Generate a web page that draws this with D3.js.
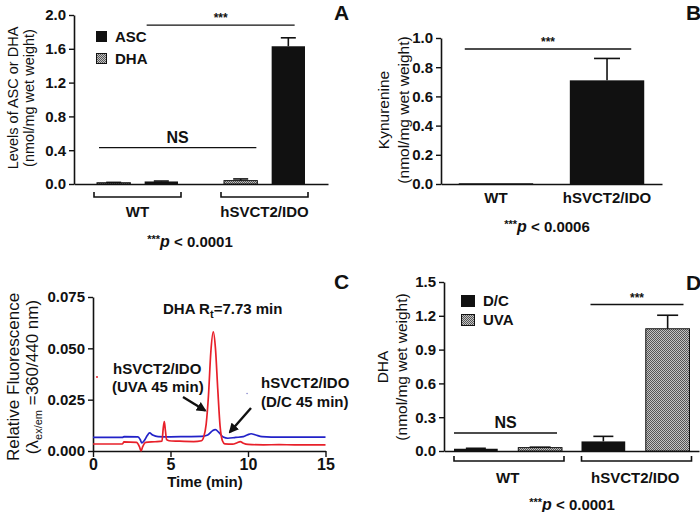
<!DOCTYPE html>
<html><head><meta charset="utf-8">
<script src="https://cdn.jsdelivr.net/npm/d3@7"></script>
<style>
body{margin:0;background:#fff}
svg{display:block}
text{font-family:"Liberation Sans",Arial,sans-serif;fill:#111}
</style>
</head><body><svg width="700" height="512"></svg>
<script>
// ---------- DATA ----------
// Panel A
const groupsA = ["WT", "hSVCT2/IDO"];
const seriesA = ["DHA", "ASC"];
const dhaA = [0.015, 0.04];
const dhaErrA = [0.004, 0.02];
const ascA = [0.03, 1.63];
const ascErrA = [0.005, 0.10];
const ticksA = [0.0, 0.4, 0.8, 1.2, 1.6, 2.0];
// Panel B
const groupsB = ["WT", "hSVCT2/IDO"];
const kynB = [0.005, 0.71];
const kynErrB = [0, 0.15];
const ticksB = [0.0, 0.2, 0.4, 0.6, 0.8, 1.0];
// Panel C (chromatograms)
const timeUVA = [0, 1.9, 2.0, 2.8, 3.0, 3.1, 3.2, 3.4, 4.0, 4.45, 4.53, 4.6, 4.67, 4.75, 4.9, 5.5, 6.5, 7.0, 7.15, 7.3, 7.45, 7.6, 7.76, 7.9, 8.05, 8.2, 8.35, 8.5, 9.0, 9.3, 9.5, 9.7, 10.0, 11, 12, 13, 14, 15];
const valUVA = [0.0034, 0.0034, 0.0044, 0.0042, 0.002, 0.0, 0.002, 0.0042, 0.0045, 0.0048, 0.011, 0.0143, 0.010, 0.0055, 0.005, 0.0048, 0.0046, 0.005, 0.007, 0.013, 0.027, 0.048, 0.058, 0.050, 0.030, 0.012, 0.005, 0.0035, 0.0033, 0.004, 0.0046, 0.0038, 0.0032, 0.003, 0.0031, 0.003, 0.003, 0.003];
const timeDC = [0, 1.9, 2.0, 2.9, 3.05, 3.15, 3.3, 3.5, 3.65, 3.85, 4.2, 5, 6, 7.0, 7.4, 7.7, 7.9, 8.1, 8.4, 8.7, 9.2, 9.7, 10.0, 10.2, 10.5, 10.9, 11.5, 13, 15];
const valDC = [0.0066, 0.0066, 0.0070, 0.0069, 0.0055, 0.0039, 0.005, 0.0075, 0.0088, 0.0078, 0.0070, 0.0069, 0.0070, 0.0071, 0.0078, 0.0098, 0.0104, 0.0092, 0.0068, 0.0062, 0.0066, 0.0070, 0.0080, 0.0084, 0.0078, 0.0070, 0.0068, 0.0068, 0.0068];
const strayUVA = [[0.26, 0.036]];
const strayDC = [[9.94, 0.028]];
const ticksCx = [0, 5, 10, 15];
const ticksCy = [0.000, 0.025, 0.050, 0.075];
// Panel D
const groupsD = ["WT", "hSVCT2/IDO"];
const seriesD = ["D/C", "UVA"];
const dcD = [0.02, 0.085];
const dcErrD = [0.004, 0.045];
const uvaD = [0.03, 1.085];
const uvaErrD = [0.004, 0.12];
const ticksD = [0.0, 0.3, 0.6, 0.9, 1.2, 1.5];

// ---------- SETUP ----------
const svg = d3.select("svg");
const defs = svg.append("defs");
const pat = defs.append("pattern").attr("id", "dots").attr("width", 2).attr("height", 2)
  .attr("patternUnits", "userSpaceOnUse");
pat.append("rect").attr("width", 2).attr("height", 2).attr("fill", "#c4c4c4");
pat.append("rect").attr("width", 1).attr("height", 1).attr("fill", "#555");
pat.append("rect").attr("x", 1).attr("y", 1).attr("width", 1).attr("height", 1).attr("fill", "#555");
const ar = defs.append("marker").attr("id", "arrow").attr("viewBox", "0 0 10 10")
  .attr("refX", 8).attr("refY", 5).attr("markerWidth", 4.2).attr("markerHeight", 4.2)
  .attr("markerUnits", "strokeWidth").attr("orient", "auto");
ar.append("path").attr("d", "M0,0 L10,5 L0,10 z").attr("fill", "#111");

const FONT = "'Liberation Sans', Arial, sans-serif";

function styleAxis(g) {
  g.select(".domain").attr("stroke", "#111").attr("stroke-width", 1.6);
  g.selectAll(".tick line").attr("stroke", "#111").attr("stroke-width", 1.4);
  g.selectAll(".tick text").attr("font-size", 15).attr("font-weight", "bold")
    .attr("font-family", FONT).attr("fill", "#111");
}
function yLabel(x1, x2, cy, l1, l2, size) {
  const t1 = svg.append("text").attr("transform", `translate(${x1},${cy}) rotate(-90)`)
    .attr("text-anchor", "middle").attr("dy", "0.35em").attr("font-size", size);
  if (typeof l1 === "string") t1.text(l1); else l1(t1);
  const t2 = svg.append("text").attr("transform", `translate(${x2},${cy}) rotate(-90)`)
    .attr("text-anchor", "middle").attr("dy", "0.35em").attr("font-size", size);
  if (typeof l2 === "string") t2.text(l2); else l2(t2);
}
function panelLetter(x, y, s) {
  svg.append("text").attr("x", x).attr("y", y).attr("font-size", 21).attr("font-weight", "bold").text(s);
}
function sigLine(xa, xb, y, label, big) {
  svg.append("line").attr("x1", xa).attr("x2", xb).attr("y1", y).attr("y2", y)
    .attr("stroke", "#111").attr("stroke-width", 1.4);
  const t = svg.append("text").attr("x", (xa + xb) / 2).attr("text-anchor", "middle").text(label);
  if (big) t.attr("y", y - 5).attr("font-size", 16).attr("font-weight", "bold");
  else t.attr("y", y - 3).attr("font-size", 12).attr("font-weight", "bold").attr("fill", "#444");
}
function bracket(xa, xb, y) {
  svg.append("path").attr("d", `M${xa},${y - 5} V${y} H${xb} V${y - 5}`)
    .attr("fill", "none").attr("stroke", "#111").attr("stroke-width", 1.6);
}
function pText(cx, y, pv) {
  const t = svg.append("text").attr("x", cx).attr("y", y).attr("text-anchor", "middle")
    .attr("font-size", 15).attr("font-weight", "bold");
  t.append("tspan").attr("font-size", 11).attr("dy", -4).text("***");
  t.append("tspan").attr("font-style", "italic").attr("font-size", 16).attr("dy", 4).text("p");
  t.append("tspan").text(" < " + pv);
}
function bar(x, w, y, v, err, fill, capW) {
  svg.append("rect").attr("x", x).attr("y", y(v)).attr("width", w)
    .attr("height", y(0) - y(v)).attr("fill", fill)
    .attr("stroke", "#111").attr("stroke-width", fill === "#111" ? 0 : 1);
  if (err > 0) {
    const cx = x + w / 2;
    svg.append("line").attr("x1", cx).attr("x2", cx).attr("y1", y(v)).attr("y2", y(v + err))
      .attr("stroke", "#111").attr("stroke-width", 1.6);
    svg.append("line").attr("x1", cx - capW / 2).attr("x2", cx + capW / 2)
      .attr("y1", y(v + err)).attr("y2", y(v + err)).attr("stroke", "#111").attr("stroke-width", 1.6);
  }
}

// ---------- PANEL A ----------
{
  const y = d3.scaleLinear().domain([0, 2.0]).range([184, 15]);
  const x0 = d3.scaleBand().domain(groupsA).range([74, 328]);
  const x1 = d3.scaleBand().domain(seriesA).range([23, 104]).paddingInner(0.3);
  svg.append("g").attr("transform", "translate(74,0)")
    .call(d3.axisLeft(y).tickValues(ticksA).tickFormat(d3.format(".1f")).tickSize(5).tickSizeOuter(0))
    .call(styleAxis);
  svg.append("g").attr("transform", "translate(0,184)")
    .call(d3.axisBottom(x0).tickValues([]).tickSizeOuter(0)).call(styleAxis);
  groupsA.forEach((g, i) => {
    bar(x0(g) + x1("DHA"), x1.bandwidth(), y, dhaA[i], dhaErrA[i], "url(#dots)", 15);
    bar(x0(g) + x1("ASC"), x1.bandwidth(), y, ascA[i], ascErrA[i], "#111", 15);
    bracket(x0(g) + x1("DHA") - 3, x0(g) + x1("ASC") + x1.bandwidth() + 3, 197);
    svg.append("text").attr("x", x0(g) + x0.bandwidth() / 2).attr("y", 217)
      .attr("text-anchor", "middle").attr("font-size", 15).attr("font-weight", "bold").text(g);
  });
  sigLine(x0("WT") + x1("ASC") + 2, x0("hSVCT2/IDO") + x1("ASC") + 23, y(1.88), "***", false);
  sigLine(x0("WT") + x1("DHA") + 2, x0("hSVCT2/IDO") + x1("DHA") + x1.bandwidth() - 1, y(0.43), "NS", true);
  // legend
  svg.append("rect").attr("x", 96).attr("y", 31).attr("width", 11).attr("height", 11).attr("fill", "#111");
  svg.append("rect").attr("x", 96.5).attr("y", 53.5).attr("width", 10).attr("height", 10).attr("fill", "url(#dots)").attr("stroke", "#111");
  svg.append("text").attr("x", 115).attr("y", 42).attr("font-size", 15).attr("font-weight", "bold").text(seriesA[1]);
  svg.append("text").attr("x", 115).attr("y", 64).attr("font-size", 15).attr("font-weight", "bold").text(seriesA[0]);
  yLabel(13, 29, 98, "Levels of ASC or DHA", "(nmol/mg wet weight)", 14.5);
  pText(190, 247, "0.0001");
  panelLetter(334, 20, "A");
}

// ---------- PANEL B ----------
{
  const y = d3.scaleLinear().domain([0, 1.0]).range([184, 38]);
  const x = d3.scaleBand().domain(groupsB).range([441, 662]).paddingInner(0.33).paddingOuter(0.16);
  svg.append("g").attr("transform", "translate(441,0)")
    .call(d3.axisLeft(y).tickValues(ticksB).tickFormat(d3.format(".1f")).tickSize(5).tickSizeOuter(0))
    .call(styleAxis);
  svg.append("g").attr("transform", "translate(0,184)")
    .call(d3.axisBottom(x).tickValues([]).tickSizeOuter(0)).call(styleAxis);
  groupsB.forEach((g, i) => {
    bar(x(g), x.bandwidth(), y, kynB[i], kynErrB[i], "#111", 26);
    svg.append("text").attr("x", x(g) + x.bandwidth() / 2).attr("y", 203)
      .attr("text-anchor", "middle").attr("font-size", 15).attr("font-weight", "bold").text(g);
  });
  sigLine(x("WT") + 6, x("hSVCT2/IDO") + x.bandwidth() - 13, y(0.925), "***", false);
  yLabel(384, 404, 110, "Kynurenine", "(nmol/mg wet weight)", 15.5);
  pText(547, 232, "0.0006");
  panelLetter(686, 20, "B");
}

// ---------- PANEL C ----------
{
  const y = d3.scaleLinear().domain([0, 0.075]).range([451, 297]);
  const x = d3.scaleLinear().domain([0, 15]).range([93, 325.5]);
  svg.append("g").attr("transform", "translate(93,0)")
    .call(d3.axisLeft(y).tickValues(ticksCy).tickFormat(d3.format(".3f")).tickSize(5).tickSizeOuter(0))
    .call(styleAxis);
  svg.append("g").attr("transform", "translate(0,451)")
    .call(d3.axisBottom(x).tickValues(ticksCx).tickFormat(d3.format("d")).tickSize(6).tickSizeOuter(0))
    .call(styleAxis).call(g => g.selectAll(".tick text").attr("font-size", 16).attr("dy", "0.65em"));
  const line = d3.line().x(d => x(d[0])).y(d => y(d[1])).curve(d3.curveMonotoneX);
  svg.append("path").datum(timeDC.map((t, i) => [t, valDC[i]])).attr("d", line)
    .attr("fill", "none").attr("stroke", "#2222c8").attr("stroke-width", 1.7);
  svg.append("path").datum(timeUVA.map((t, i) => [t, valUVA[i]])).attr("d", line)
    .attr("fill", "none").attr("stroke", "#e8202a").attr("stroke-width", 1.7);
  svg.selectAll(".sr").data(strayUVA).join("circle").attr("cx", d => x(d[0])).attr("cy", d => y(d[1])).attr("r", 1).attr("fill", "#e8202a");
  svg.selectAll(".sb").data(strayDC).join("circle").attr("cx", d => x(d[0])).attr("cy", d => y(d[1])).attr("r", 0.8).attr("fill", "#8888cc");
  svg.append("text").attr("x", 205).attr("y", 487).attr("text-anchor", "middle")
    .attr("font-size", 15).attr("font-weight", "bold").text("Time (min)");
  const tt = svg.append("text").attr("x", 163).attr("y", 314).attr("font-size", 15).attr("font-weight", "bold");
  tt.append("tspan").text("DHA R");
  tt.append("tspan").attr("font-size", 11).attr("dy", 4).text("t");
  tt.append("tspan").attr("dy", -4).text("=7.73 min");
  [["hSVCT2/IDO", 113, 374], ["(UVA 45 min)", 112, 392], ["hSVCT2/IDO", 261, 388], ["(D/C 45 min)", 261, 407]]
    .forEach(d => svg.append("text").attr("x", d[1]).attr("y", d[2]).attr("font-size", 15).attr("font-weight", "bold").text(d[0]));
  svg.append("line").attr("x1", 183).attr("y1", 397).attr("x2", 205).attr("y2", 410.5)
    .attr("stroke", "#111").attr("stroke-width", 2.4).attr("marker-end", "url(#arrow)");
  svg.append("line").attr("x1", 251).attr("y1", 408).attr("x2", 230).attr("y2", 432)
    .attr("stroke", "#111").attr("stroke-width", 2.4).attr("marker-end", "url(#arrow)");
  yLabel(13, 32, 377, "Relative Fluorescence", t => {
    t.append("tspan").text("(λ");
    t.append("tspan").attr("font-size", 11).attr("dy", 4).text("ex/em");
    t.append("tspan").attr("dy", -4).text(" =360/440 nm)");
  }, 17);
  panelLetter(334, 289, "C");
}

// ---------- PANEL D ----------
{
  const y = d3.scaleLinear().domain([0, 1.5]).range([451, 282]);
  const x0 = d3.scaleBand().domain(groupsD).range([444, 699]);
  const x1 = d3.scaleBand().domain(seriesD).range([10, 118]).paddingInner(0.32);
  svg.append("g").attr("transform", "translate(444,0)")
    .call(d3.axisLeft(y).tickValues(ticksD).tickFormat(d3.format(".1f")).tickSize(5).tickSizeOuter(0))
    .call(styleAxis);
  svg.append("g").attr("transform", "translate(0,451)")
    .call(d3.axisBottom(x0).tickValues([]).tickSizeOuter(0)).call(styleAxis);
  groupsD.forEach((g, i) => {
    bar(x0(g) + x1("D/C"), x1.bandwidth(), y, dcD[i], dcErrD[i], "#111", 20);
    bar(x0(g) + x1("UVA"), x1.bandwidth(), y, uvaD[i], uvaErrD[i], "url(#dots)", 21);
    bracket(x0(g) + x1("D/C"), x0(g) + x1("UVA") + x1.bandwidth() + 2, 461);
    svg.append("text").attr("x", x0(g) + x0.bandwidth() / 2).attr("y", 483)
      .attr("text-anchor", "middle").attr("font-size", 15).attr("font-weight", "bold").text(g);
  });
  sigLine(x0("WT") + x1("D/C"), x0("WT") + x1("UVA") + x1.bandwidth() - 5, y(0.16), "NS", true);
  sigLine(x0("hSVCT2/IDO") + x1("D/C") + 9, x0("hSVCT2/IDO") + x1("UVA") + x1.bandwidth() - 6, y(1.30), "***", false);
  svg.append("rect").attr("x", 461).attr("y", 295).attr("width", 14).attr("height", 12).attr("fill", "#111");
  svg.append("rect").attr("x", 461.5).attr("y", 314.5).attr("width", 13).attr("height", 11).attr("fill", "url(#dots)").attr("stroke", "#111");
  svg.append("text").attr("x", 483).attr("y", 306).attr("font-size", 15).attr("font-weight", "bold").text(seriesD[0]);
  svg.append("text").attr("x", 483).attr("y", 325).attr("font-size", 15).attr("font-weight", "bold").text(seriesD[1]);
  yLabel(383, 402, 367, "DHA", "(nmol/mg wet weight)", 15.5);
  pText(572, 510, "0.0001");
  panelLetter(686, 290, "D");
}
</script>
</body></html>
